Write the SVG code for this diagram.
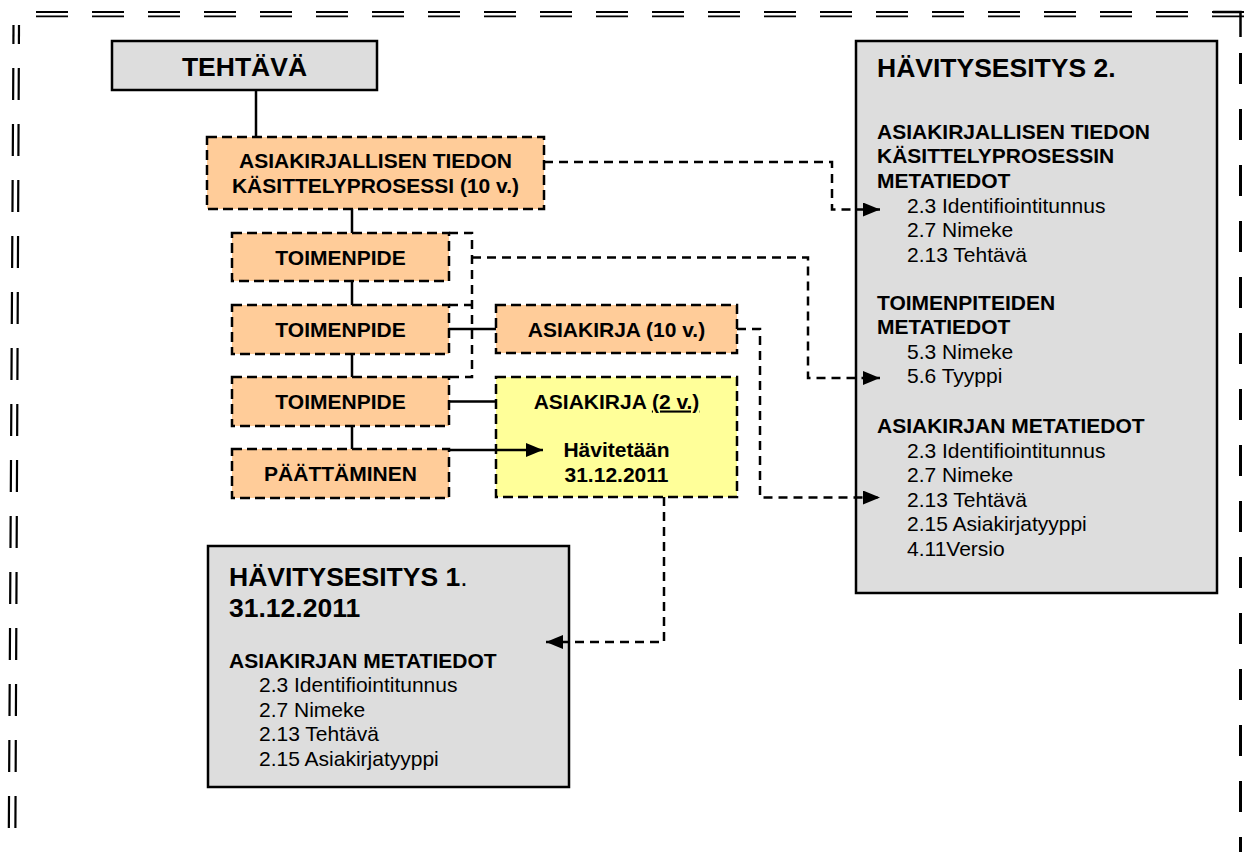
<svg xmlns="http://www.w3.org/2000/svg" width="1244" height="852" viewBox="0 0 1244 852">
<style>
.t{font-family:"Liberation Sans",Arial,sans-serif;font-size:21px;fill:#000}
.b{font-weight:bold}
.h{font-size:26.5px;font-weight:bold}
.mid{text-anchor:middle}
.orange{fill:#ffcc99;stroke:#000;stroke-width:2.5;stroke-dasharray:10 5}
.yellow{fill:#ffff99;stroke:#000;stroke-width:2.5;stroke-dasharray:10 5}
.gray{fill:#dddddd;stroke:#000;stroke-width:2.5}
.conn{fill:none;stroke:#000;stroke-width:2.5}
.dconn{fill:none;stroke:#000;stroke-width:2.5;stroke-dasharray:9 6}
.bdr{fill:none;stroke:#000}
</style>
<defs>
<marker id="arr" viewBox="0 0 17 14" refX="17" refY="7" markerWidth="17" markerHeight="14" markerUnits="userSpaceOnUse" orient="auto">
<path d="M0,0 L17,7 L0,14 Z" fill="#000"/>
</marker>
</defs>
<rect x="0" y="0" width="1244" height="852" fill="#fff"/>
<g id="border">
<line class="bdr" x1="36" y1="12" x2="1244" y2="12" stroke-width="1.8" stroke-dasharray="32 24"/>
<line class="bdr" x1="36" y1="16.3" x2="1244" y2="16.3" stroke-width="1.8" stroke-dasharray="32 24"/>
<path class="bdr" d="M1213,12 H1240.5 V37" stroke-width="2.5"/>
<line class="bdr" x1="1240.5" y1="53" x2="1240.5" y2="852" stroke-width="3" stroke-dasharray="31 25"/>
<line class="bdr" x1="13.5" y1="25" x2="13.4" y2="44" stroke-width="2.2"/>
<line class="bdr" x1="19" y1="25" x2="18.9" y2="44" stroke-width="2.2"/>
<line class="bdr" x1="13.3" y1="68" x2="8.7" y2="852" stroke-width="2.2" stroke-dasharray="32 24"/>
<line class="bdr" x1="18.8" y1="68" x2="15.3" y2="852" stroke-width="2.2" stroke-dasharray="32 24"/>
</g>
<g id="tehtava">
<rect class="gray" x="112" y="41" width="265" height="49"/>
<text class="t h mid" x="244.5" y="76">TEHTÄVÄ</text>
</g>
<g id="prosessi">
<rect class="orange" x="207" y="137" width="337" height="72"/>
<text class="t b mid" x="375.5" y="168">ASIAKIRJALLISEN TIEDON</text>
<text class="t b mid" x="375.5" y="193">KÄSITTELYPROSESSI (10 v.)</text>
</g>
<g id="toimenpide1">
<rect class="orange" x="232" y="233" width="217" height="48"/>
<text class="t b mid" x="340.5" y="265">TOIMENPIDE</text>
</g>
<g id="toimenpide2">
<rect class="orange" x="232" y="305" width="217" height="49"/>
<text class="t b mid" x="340.5" y="337">TOIMENPIDE</text>
</g>
<g id="toimenpide3">
<rect class="orange" x="232" y="377" width="217" height="49"/>
<text class="t b mid" x="340.5" y="409">TOIMENPIDE</text>
</g>
<g id="paattaminen">
<rect class="orange" x="232" y="449" width="217" height="49"/>
<text class="t b mid" x="340.5" y="481">PÄÄTTÄMINEN</text>
</g>
<g id="asiakirja10">
<rect class="orange" x="496" y="305" width="241" height="48"/>
<text class="t b mid" x="616.5" y="337">ASIAKIRJA (10 v.)</text>
</g>
<g id="asiakirja2">
<rect class="yellow" x="496" y="377" width="241" height="120"/>
<text class="t b mid" x="616.5" y="408.5">ASIAKIRJA <tspan text-decoration="underline">(2 v.)</tspan></text>
<text class="t b mid" x="616.5" y="457">Hävitetään</text>
<text class="t b mid" x="616.5" y="482">31.12.2011</text>
</g>
<g id="havitysesitys2">
<rect class="gray" x="856" y="41" width="361" height="552"/>
<text class="t h" x="877" y="77">HÄVITYSESITYS 2.</text>
<text class="t b" x="877" y="138.5">ASIAKIRJALLISEN TIEDON</text>
<text class="t b" x="877" y="163">KÄSITTELYPROSESSIN</text>
<text class="t b" x="877" y="187.5">METATIEDOT</text>
<text class="t" x="907" y="212.5">2.3 Identifiointitunnus</text>
<text class="t" x="907" y="237">2.7 Nimeke</text>
<text class="t" x="907" y="261.5">2.13 Tehtävä</text>
<text class="t b" x="877" y="309.5">TOIMENPITEIDEN</text>
<text class="t b" x="877" y="334">METATIEDOT</text>
<text class="t" x="907" y="358.5">5.3 Nimeke</text>
<text class="t" x="907" y="383">5.6 Tyyppi</text>
<text class="t b" x="877" y="433">ASIAKIRJAN METATIEDOT</text>
<text class="t" x="907" y="457.5">2.3 Identifiointitunnus</text>
<text class="t" x="907" y="482">2.7 Nimeke</text>
<text class="t" x="907" y="506.5">2.13 Tehtävä</text>
<text class="t" x="907" y="531">2.15 Asiakirjatyyppi</text>
<text class="t" x="907" y="555.5">4.11Versio</text>
</g>
<g id="havitysesitys1">
<rect class="gray" x="208" y="546" width="361" height="241"/>
<text class="t h" x="229" y="586">HÄVITYSESITYS 1<tspan font-weight="normal">.</tspan></text>
<text class="t h" x="229" y="617">31.12.2011</text>
<text class="t b" x="229" y="667.5">ASIAKIRJAN METATIEDOT</text>
<text class="t" x="259" y="692">2.3 Identifiointitunnus</text>
<text class="t" x="259" y="716.5">2.7 Nimeke</text>
<text class="t" x="259" y="741">2.13 Tehtävä</text>
<text class="t" x="259" y="765.5">2.15 Asiakirjatyyppi</text>
</g>
<g id="connectors">
<line class="conn" x1="256" y1="90" x2="256" y2="137"/>
<line class="conn" x1="352" y1="209" x2="352" y2="233"/>
<line class="conn" x1="352" y1="281" x2="352" y2="305"/>
<line class="conn" x1="352" y1="354" x2="352" y2="377"/>
<line class="conn" x1="352" y1="426" x2="352" y2="449"/>
<line class="conn" x1="449" y1="329" x2="496" y2="329"/>
<line class="conn" x1="449" y1="401.5" x2="496" y2="401.5"/>
<line class="conn" x1="449" y1="450" x2="543" y2="450" marker-end="url(#arr)"/>
<path class="dconn" d="M449,233 H472 V377 H449"/>
<path class="dconn" d="M449,305 H472"/>
<path class="dconn" d="M544,162 H832 V209.5 H880" marker-end="url(#arr)"/>
<path class="dconn" d="M472,257.5 H808 V378 H880" marker-end="url(#arr)"/>
<path class="dconn" d="M737,329 H760 V497.5 H880" marker-end="url(#arr)"/>
<path class="dconn" d="M664,497 V642 H546" marker-end="url(#arr)"/>
</g>
</svg>
